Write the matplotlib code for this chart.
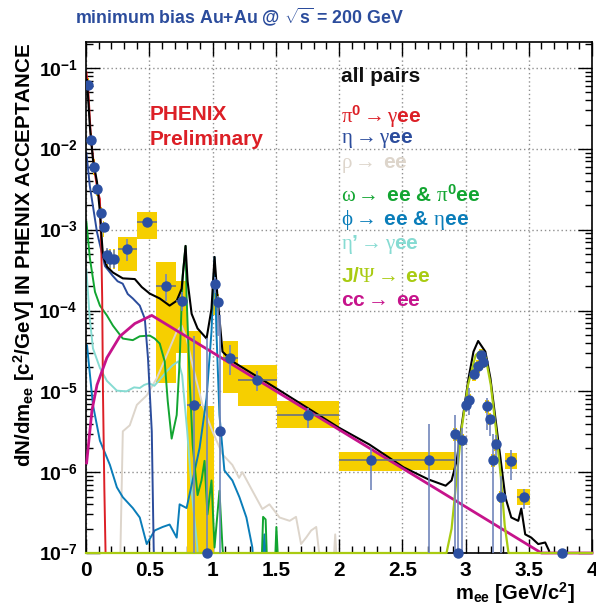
import matplotlib
matplotlib.use("Agg")
import matplotlib.pyplot as plt
from matplotlib.ticker import MultipleLocator, LogLocator, FixedLocator, FuncFormatter, NullFormatter
import numpy as np

plt.rcParams['font.family'] = ['Liberation Sans', 'DejaVu Sans']
plt.rcParams['font.weight'] = 'bold'
plt.rcParams['mathtext.fontset'] = 'custom'
plt.rcParams['mathtext.rm'] = 'Liberation Serif:weight=normal'
plt.rcParams['mathtext.it'] = 'Liberation Serif:italic'
plt.rcParams['mathtext.bf'] = 'Liberation Sans:bold'
plt.rcParams['mathtext.sf'] = 'Liberation Sans:bold'

# ---- measured points (value, stat bar, sys box) ----
pt_x = [0.016, 0.04, 0.063, 0.087, 0.118, 0.14, 0.165, 0.19, 0.22, 0.325, 0.48, 0.63,
        0.755, 0.855, 1.016, 1.04, 1.06, 1.14, 1.355, 1.755, 2.25, 2.71,
        2.92, 2.97, 3.00, 3.03, 3.07, 3.10, 3.12, 3.14, 3.17, 3.19, 3.22, 3.24, 3.28,
        3.36, 3.46]
pt_y = [6.2e-2, 1.3e-2, 5.9e-3, 3.2e-3, 1.6e-3, 1.07e-3, 4.8e-4, 4.4e-4, 4.4e-4, 5.8e-4,
        1.23e-3, 2.0e-4, 1.3e-4, 6.8e-6, 2.1e-4, 1.26e-4, 3.2e-6, 2.6e-5, 1.38e-5, 5.1e-6,
        1.4e-6, 1.4e-6,
        2.95e-6, 2.5e-6, 6.8e-6, 7.9e-6, 1.62e-5, 2.04e-5, 2.8e-5, 2.3e-5, 6.5e-6, 4.5e-6,
        1.4e-6, 2.2e-6, 4.9e-7, 1.38e-6, 4.9e-7]
pt_dx = [0.004, 0.006, 0.006, 0.006, 0.006, 0.006, 0.008, 0.008, 0.008, 0.075, 0.08, 0.08,
         0.045, 0.055, 0.01, 0.01, 0.01, 0.06, 0.155, 0.245, 0.25, 0.21,
         0.015, 0.015, 0.015, 0.015, 0.015, 0.015, 0.015, 0.015, 0.015, 0.015, 0.015, 0.015,
         0.015, 0.05, 0.05]
stat_lo = [5.6e-2, 1.2e-2, 5.4e-3, 2.9e-3, 1.45e-3, 9.5e-4, 3.8e-4, 3.4e-4, 3.4e-4, 4.1e-4,
           1.15e-3, 1.32e-4, 9.8e-5, 1e-8, 1.65e-4, 4.9e-5, 1e-8, 1.6e-5, 1.0e-5, 3.5e-6,
           6.0e-7, 1e-8,
           1e-8, 1e-8, 5.5e-6, 5.1e-6, 1.4e-5, 1.8e-5, 2.5e-5, 2.0e-5, 3.3e-6, 2.8e-6,
           1e-8, 1.3e-6, 1e-8, 8.1e-7, 3.5e-7]
stat_hi = [6.8e-2, 1.4e-2, 6.4e-3, 3.5e-3, 1.75e-3, 1.2e-3, 6.0e-4, 5.6e-4, 5.6e-4, 7.6e-4,
           1.32e-3, 2.8e-4, 1.7e-4, 4.8e-5, 2.6e-4, 1.5e-4, 8.7e-5, 3.7e-5, 1.8e-5, 6.2e-6,
           2.0e-6, 4.0e-6,
           5.1e-6, 3.5e-6, 8.5e-6, 1.1e-5, 1.9e-5, 2.3e-5, 3.1e-5, 2.6e-5, 8.3e-6, 5.1e-6,
           3.0e-6, 2.9e-6, 9e-7, 1.9e-6, 6.2e-7]
sys_lo = [4.9e-2, 1.07e-2, 4.8e-3, 2.6e-3, 1.35e-3, 8.1e-4, 3.3e-4, 3.3e-4, 3.3e-4, 3.1e-4,
          7.6e-4, 1.26e-5, 2.95e-5, 1e-8, 8.7e-5, 1.0e-4, 3.1e-6, 9.5e-6, 6.5e-6, 3.5e-6,
          1.02e-6, 1.07e-6,
          2.45e-6, 2.1e-6, 5.7e-6, 6.6e-6, 1.36e-5, 1.7e-5, 2.35e-5, 1.93e-5, 5.4e-6, 3.8e-6,
          1.17e-6, 1.85e-6, 4.1e-7, 1.1e-6, 3.9e-7]
sys_hi = [7.6e-2, 1.58e-2, 7.4e-3, 3.9e-3, 1.9e-3, 1.29e-3, 5.8e-4, 5.8e-4, 5.8e-4, 8.1e-4,
          1.66e-3, 4.0e-4, 2.3e-4, 5.6e-5, 2.6e-4, 1.6e-4, 3.3e-6, 4.2e-5, 2.1e-5, 7.6e-6,
          1.8e-6, 1.8e-6,
          3.55e-6, 3.0e-6, 8.1e-6, 9.4e-6, 1.93e-5, 2.45e-5, 3.35e-5, 2.75e-5, 7.8e-6, 5.4e-6,
          1.68e-6, 2.6e-6, 5.9e-7, 1.75e-6, 6.2e-7]

# points compatible with zero (drawn on the lower edge)
zero_x = [0.96, 2.94, 3.76]
zero_dx = [0.05, 0.015, 0.015]
zero_stat_hi = [4.6e-5, 3.0e-6, 1e-7]
zero_sys_hi = [6.5e-6, 1e-7, 1e-7]

# ---- cocktail curves ----
pi0_x = [0.003, 0.016, 0.04, 0.07, 0.094, 0.11, 0.122, 0.128, 0.134, 0.145, 0.157]
pi0_y = [8.9e-2, 5.9e-2, 1.29e-2, 5e-3, 2.9e-3, 2.4e-3, 5e-4, 1.41e-4, 1e-5, 6.3e-7, 6.3e-8]

eta_x = [0.003, 0.03, 0.087, 0.15, 0.21, 0.25, 0.29, 0.33, 0.37, 0.425, 0.465, 0.49, 0.52, 0.535, 0.545]
eta_y = [8.9e-3, 3.5e-3, 9.3e-4, 3.55e-4, 2.7e-4, 2.3e-4, 2.15e-4, 1.6e-4, 1.41e-4, 1.15e-4,
         7.9e-5, 2.57e-5, 3.2e-6, 1.17e-7, 3e-8]

rho_x = [0.262, 0.268, 0.291, 0.346, 0.402, 0.48, 0.559, 0.638, 0.717, 0.756, 0.795, 0.843,
         0.921, 1.0, 1.079, 1.157, 1.21, 1.236, 1.315, 1.394, 1.45, 1.53, 1.61, 1.66, 1.70,
         1.74, 1.78, 1.82, 1.84, 1.88, 1.95, 1.97, 1.99]
rho_y = [5e-8, 5e-8, 3.2e-6, 3.8e-6, 6.8e-6, 8.9e-6, 1.45e-5, 2.8e-5, 5.5e-5, 6.5e-5, 4.5e-5,
         2.1e-5, 6.8e-6, 3.2e-6, 1.66e-6, 1.23e-6, 8.5e-7, 1.0e-6, 5.9e-7, 3.5e-7, 4.0e-7,
         2.75e-7, 2.5e-7, 2.8e-7, 1.29e-7, 1.55e-7, 1.9e-7, 2.1e-7, 1.1e-7, 5e-8, 5e-8,
         1.7e-7, 5e-8]

omega_x = [0.003, 0.031, 0.071, 0.11, 0.165, 0.213, 0.291, 0.37, 0.425, 0.504, 0.543, 0.583,
           0.622, 0.646, 0.677, 0.717, 0.74, 0.764, 0.787, 0.795, 0.819, 0.843, 0.882, 0.913,
           0.937, 0.96, 0.992, 1.016, 1.055, 1.079, 1.10, 1.385, 1.40, 1.42, 1.435, 1.49,
           1.505, 1.525]
omega_y = [1.26e-3, 4.4e-4, 1.7e-4, 1.15e-4, 8.7e-5, 6.5e-5, 4.5e-5, 4.3e-5, 4.8e-5, 4.9e-5,
           4.5e-5, 3.9e-5, 2.35e-5, 7.6e-6, 2.6e-6, 5.1e-6, 2.35e-5, 2.7e-4, 6.3e-4, 1.51e-4,
           1.45e-5, 2.2e-6, 5.2e-7, 7.9e-7, 1.38e-6, 3.0e-7, 7.9e-7, 1.17e-7, 5.9e-7, 1.17e-7,
           5e-8, 5e-8, 2.8e-7, 2.6e-7, 5e-8, 5e-8, 2.1e-7, 5e-8]

phi_x = [0.008, 0.055, 0.11, 0.189, 0.244, 0.291, 0.37, 0.425, 0.48, 0.543, 0.606, 0.661,
         0.717, 0.74, 0.795, 0.843, 0.898, 0.953, 0.992, 1.016, 1.031, 1.055, 1.094, 1.157,
         1.213, 1.268, 1.315, 1.33, 1.39, 1.41, 1.43]
phi_y = [3.7e-5, 6.8e-6, 2.45e-6, 1.23e-6, 6.5e-7, 4.9e-7, 3.6e-7, 2.75e-7, 1.29e-7, 1.9e-7,
         2.1e-7, 2.25e-7, 1.55e-7, 4.0e-7, 3.6e-7, 7.9e-7, 2.0e-6, 8.3e-6, 5.5e-5, 4.6e-4,
         5.5e-5, 5.1e-6, 1.05e-6, 7.9e-7, 4.9e-7, 2.75e-7, 1.17e-7, 5e-8, 5e-8, 1.7e-7, 5e-8]

etap_x = [0.003, 0.03, 0.055, 0.11, 0.165, 0.244, 0.32, 0.38, 0.425, 0.46, 0.5, 0.54, 0.58,
          0.64, 0.685, 0.73, 0.76, 0.80, 0.84, 0.88, 0.90]
etap_y = [3.2e-4, 7.9e-5, 3.4e-5, 1.95e-5, 1.35e-5, 1.02e-5, 1.0e-5, 1.12e-5, 1.1e-5, 1.2e-5,
          1.26e-5, 1.17e-5, 1.38e-5, 1.78e-5, 2.1e-5, 2.35e-5, 1.58e-5, 3.2e-6, 4.9e-7,
          1.17e-7, 3.2e-8]

jpsi_x = [0.0, 2.85, 2.89, 2.93, 2.97, 3.02, 3.08, 3.12, 3.16, 3.20, 3.24, 3.28, 3.31, 3.34, 4.0]
jpsi_y = [1e-7, 1e-7, 2e-7, 8.5e-7, 3.5e-6, 1.2e-5, 2.8e-5, 3.2e-5, 2.6e-5, 1.2e-5, 3.5e-6,
          8.5e-7, 2.2e-7, 1e-7, 1e-7]

cc_x = [0.005, 0.047, 0.087, 0.165, 0.268, 0.386, 0.52, 3.6, 4.0]
cc_y = [1.3e-6, 5.8e-6, 1.2e-5, 2.6e-5, 4.8e-5, 6.9e-5, 8.7e-5, 1e-7, 1e-7]

sum_x = [0.008, 0.031, 0.055, 0.087, 0.11, 0.126, 0.134, 0.165, 0.213, 0.291, 0.386, 0.441,
         0.504, 0.583, 0.661, 0.717, 0.756, 0.787, 0.803, 0.835, 0.882, 0.953, 0.992, 1.016,
         1.039, 1.079, 1.157, 1.5, 2.0, 2.24, 2.51, 2.71, 2.843, 2.89, 2.93, 2.97, 3.024,
         3.063, 3.10, 3.157, 3.197, 3.236, 3.276, 3.315, 3.362, 3.417, 3.441, 3.472, 3.52,
         3.575, 3.63, 3.66, 3.70]
sum_y = [7.1e-2, 1.86e-2, 7.4e-3, 3.9e-3, 1.66e-3, 7.1e-4, 4.8e-4, 3.5e-4, 2.95e-4, 2.5e-4,
         2.45e-4, 1.95e-4, 1.62e-4, 1.41e-4, 1.15e-4, 1.32e-4, 1.86e-4, 6.3e-4, 2.3e-4,
         9.1e-5, 6.0e-5, 4.5e-5, 1.05e-4, 4.6e-4, 1.51e-4, 3.1e-5, 2.35e-5, 1.1e-5, 3.55e-6,
         2.2e-6, 1.15e-6, 8.1e-7, 6.8e-7, 7.9e-7, 1.38e-6, 3.8e-6, 1.45e-5, 3.1e-5, 4.2e-5,
         3.1e-5, 1.45e-5, 4.7e-6, 1.51e-6, 4.9e-7, 2.75e-7, 2.5e-7, 3.55e-7, 1.7e-7, 1.55e-7,
         1.29e-7, 1.35e-7, 1.07e-7, 5e-8]

y_decades = [1e-7, 1e-6, 1e-5, 1e-4, 1e-3, 1e-2, 1e-1]

# legend: serif greek / arrows in math, "ee" parts as plain bold text
legend_labels = [
    r"$\mathrm{\pi}^{\mathbf{0}}\mathrm{\rightarrow\gamma}$ee",
    r"$\mathrm{\eta\rightarrow\gamma}$ee",
    r"$\mathrm{\rho\rightarrow}\;$ee",
    r"$\mathrm{\omega\rightarrow}\;$ee & $\mathrm{\pi}^{\mathbf{0}}$ee",
    r"$\mathrm{\phi\rightarrow}\;$ee & $\mathrm{\eta}$ee",
    r"$\mathrm{\eta}$’$\mathrm{\rightarrow\gamma}$ee",
    r"J/$\mathrm{\Psi\rightarrow}\;$ee",
    r"cc$\mathrm{\rightarrow}\;$ee",
]
legend_y = [117, 140, 165, 195, 220, 245, 276, 300]

c_pi0, c_eta, c_rho, c_omega = '#dc1f26', '#2b4c9c', '#ddd5cb', '#12a531'
c_phi, c_etap, c_jpsi, c_cc = '#0a7db9', '#86dbd2', '#a9cb12', '#c6138b'
yellow = '#f6cf00'
dot = '#2c50a2'

W, H = 596, 608
fig = plt.figure(figsize=(W / 100, H / 100), dpi=100)
ax = fig.add_axes([86 / W, 1 - 553 / H, 506 / W, 511 / H])
ax.set_yscale('log')
ax.set_xlim(0, 4)
ax.set_ylim(1e-7, 0.21)

# systematic boxes
ax.bar(pt_x, np.array(sys_hi) - np.array(sys_lo), bottom=sys_lo, width=2 * np.array(pt_dx),
       color=yellow, zorder=1, linewidth=0)
ax.bar(zero_x, np.array(zero_sys_hi) - 1e-8, bottom=1e-8, width=2 * np.array(zero_dx),
       color=yellow, zorder=1, linewidth=0)

# curves
ax.plot(rho_x, rho_y, color=c_rho, lw=1.4, zorder=2)
ax.plot(etap_x, etap_y, color=c_etap, lw=1.4, zorder=2)
ax.plot(phi_x, phi_y, color=c_phi, lw=1.4, zorder=2)
ax.plot(omega_x, omega_y, color=c_omega, lw=1.4, zorder=2)
ax.plot(eta_x, eta_y, color=c_eta, lw=1.4, zorder=2)
ax.plot(pi0_x, pi0_y, color=c_pi0, lw=1.4, zorder=2)
ax.plot(sum_x, sum_y, color='black', lw=1.5, zorder=3)
ax.plot(cc_x, cc_y, color=c_cc, lw=2, zorder=3, clip_on=False)
ax.plot(jpsi_x, jpsi_y, color=c_jpsi, lw=1.6, zorder=3, clip_on=False)

# error bars and points
ax.vlines(pt_x, stat_lo, stat_hi, color='#7286bb', lw=1.2, zorder=4)
ax.hlines(pt_y, np.array(pt_x) - pt_dx, np.array(pt_x) + pt_dx, color='#6a7282', lw=1.2, zorder=4)
ax.vlines(zero_x, 1e-8, zero_stat_hi, color='#7286bb', lw=1.2, zorder=4)
ax.plot(pt_x, pt_y, 'o', color=dot, ms=6.5, zorder=5)
ax.plot(zero_x, [1e-7] * len(zero_x), 'o', color=dot, ms=6.5, zorder=5, clip_on=False)

# axes style
ax.xaxis.set_major_locator(MultipleLocator(0.5))
ax.xaxis.set_minor_locator(MultipleLocator(0.1))
ax.yaxis.set_major_locator(FixedLocator(y_decades))
ax.yaxis.set_minor_locator(LogLocator(base=10, subs=np.arange(2, 10), numticks=20))
ax.yaxis.set_minor_formatter(NullFormatter())
ax.xaxis.set_major_formatter(FuncFormatter(lambda v, p: "%g" % v))
ax.yaxis.set_major_formatter(FuncFormatter(lambda v, p: r"10$^{\mathbf{%d}}$" % round(np.log10(v))))
ax.tick_params(which='both', direction='in', top=True, right=True, width=1)
ax.tick_params(axis='x', labelsize=15)
ax.tick_params(axis='y', labelsize=14)
ax.tick_params(which='major', length=10, pad=6)
ax.tick_params(which='minor', length=5)
ax.grid(True, which='major', color='#8f8f8f', linestyle=(0, (1, 2)), lw=1)
ax.set_axisbelow(True)
for s in ax.spines.values():
    s.set_linewidth(1.2)

# texts
fig.text(75 / W, 1 - 17 / H, r"minimum bias Au+Au @ $\sqrt{\mathbf{s}}$ = 200 GeV",
         color='#2b4c9c', fontsize=12.8, ha='left', va='center')
fig.text(24 / W, 1 - 43 / H, r"dN/dm$_{\mathbf{ee}}$ [c$^{\mathbf{2}}$/GeV] IN PHENIX ACCEPTANCE",
         rotation=90, ha='center', va='top', fontsize=14.8)
fig.text(575 / W, 1 - 593 / H, r"m$_{\mathbf{ee}}$ [GeV/c$^{\mathbf{2}}$]",
         ha='right', va='center', fontsize=14.5)
fig.text(150 / W, 1 - 114 / H, "PHENIX", color=c_pi0, fontsize=15, va='center')
fig.text(150 / W, 1 - 139 / H, "Preliminary", color=c_pi0, fontsize=15, va='center')
fig.text(341 / W, 1 - 77 / H, "all pairs", color='#111111', fontsize=15, va='center')
for lab, yy, col in zip(legend_labels, legend_y,
                        [c_pi0, c_eta, c_rho, c_omega, c_phi, c_etap, c_jpsi, c_cc]):
    fig.text(341 / W, 1 - yy / H, lab, color=col, fontsize=15, va='center')

fig.savefig("out.png", dpi=100)
